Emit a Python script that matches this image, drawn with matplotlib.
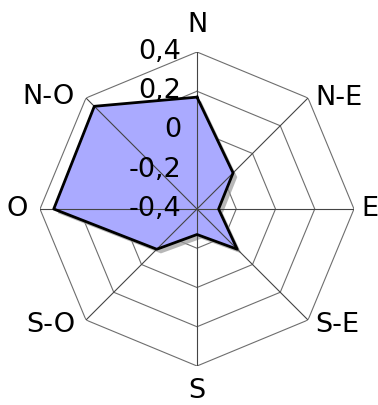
import numpy as np
import matplotlib.pyplot as plt
import matplotlib.patheffects as pe

# wind directions and values
directions = ['N', 'N-E', 'E', 'S-E', 'S', 'S-O', 'O', 'N-O']
values = [0.17, -0.14, -0.29, -0.11, -0.27, -0.11, 0.33, 0.34]
levels = [-0.4, -0.2, 0, 0.2, 0.4]
level_labels = ['-0,4', '-0,2', '0', '0,2', '0,4']

# label offsets (pixels) from the outer vertex, and alignment
label_pos = [(0, 27, 'center'), (7, 0, 'left'), (7, 0, 'left'), (7, -5, 'left'),
             (0, -25, 'center'), (-11, -5, 'right'), (-12, 0, 'right'), (-11, 1, 'right')]

fig = plt.figure(figsize=(3.78, 4.05), dpi=100)
ax = fig.add_axes([40/378, 39/405, 314/378, 314/405], projection='polar')
ax.set_theta_zero_location('N')
ax.set_theta_direction(-1)
ax.set_ylim(-0.4, 0.4)
ax.grid(False)
ax.set_xticks([])
ax.set_yticks([])
ax.spines['polar'].set_visible(False)
ax.patch.set_visible(False)

angles = np.deg2rad(np.arange(len(directions)) * 45)
ring = np.append(angles, angles[0])

# octagon grid: rings under the fill, spokes over it
for lv in levels[1:]:
    ax.plot(ring, [lv] * len(ring), color='#6e6e6e', lw=0.8, zorder=0.5)
for a in angles:
    ax.plot([a, a], [levels[0], levels[-1]], color='#444444', lw=0.8, zorder=2)

# data polygon with shadow
ax.fill(angles, values, facecolor='#aaaaff', edgecolor='none', zorder=1,
        path_effects=[pe.SimplePatchShadow(offset=(3, -3), shadow_rgbFace='#999999', alpha=0.7),
                      pe.Normal()])
ax.plot(ring, values + [values[0]], color='black', lw=2, zorder=3)

for lv, lab in zip(levels, level_labels):
    ax.annotate(lab, xy=(0, lv), xytext=(-16, 0), textcoords='offset pixels',
                ha='right', va='center', fontsize=19.5, zorder=5)

for a, d, (dx, dy, ha) in zip(angles, directions, label_pos):
    ax.annotate(d, xy=(a, levels[-1]), xytext=(dx, dy), textcoords='offset pixels',
                ha=ha, va='center', fontsize=19.5)

fig.savefig('out.png', dpi=100)
